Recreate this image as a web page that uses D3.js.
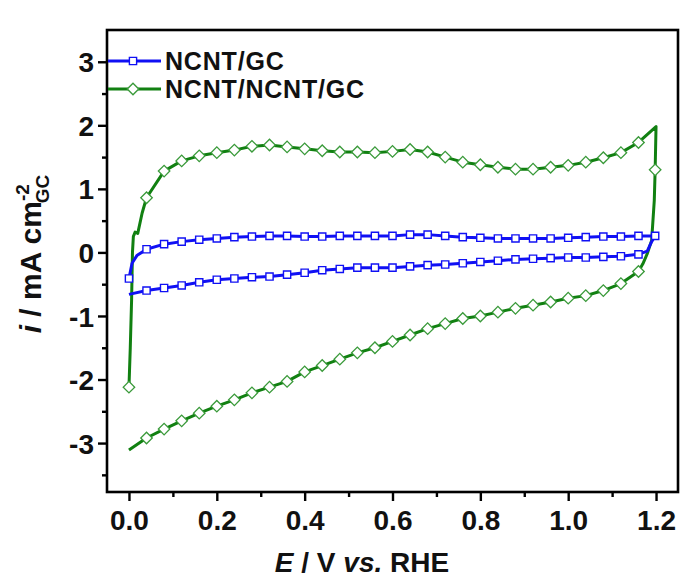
<!DOCTYPE html>
<html>
<head>
<meta charset="utf-8">
<script src="https://cdn.jsdelivr.net/npm/d3@7/dist/d3.min.js"></script>
<style>
html,body{margin:0;padding:0;background:#fff;}
svg{display:block;}
text{font-family:"Liberation Sans",Arial,Helvetica,sans-serif;font-weight:bold;fill:#111;}
</style>
</head>
<body>
<svg id="chart" width="683" height="581"></svg>
<script>
// ---------- data ----------
const seriesNames = ["NCNT/GC", "NCNT/NCNT/GC"];
const xTickLabels = ["0.0","0.2","0.4","0.6","0.8","1.0","1.2"];
const xTickValues = [0.0,0.2,0.4,0.6,0.8,1.0,1.2];
const xMinorValues = [0.1,0.3,0.5,0.7,0.9,1.1];
const yTickValues = [-3,-2,-1,0,1,2,3];
const yTickLabels = ["-3","-2","-1","0","1","2","3"];
const yMinorValues = [-3.5,-2.5,-1.5,-0.5,0.5,1.5,2.5];

// NCNT/GC : potential (V), current (mA cm-2), marker flag (scan order)
const blueE = [0.000,0.007,0.018,0.04,0.08,0.12,0.16,0.20,0.24,0.28,0.32,0.36,0.40,0.44,0.48,0.52,0.56,0.60,0.64,0.68,0.72,0.76,0.80,0.84,0.88,0.92,0.96,1.00,1.04,1.08,1.12,1.16,1.198,
               1.19,1.18,1.16,1.12,1.08,1.04,1.00,0.96,0.92,0.88,0.84,0.80,0.76,0.72,0.68,0.64,0.60,0.56,0.52,0.48,0.44,0.40,0.36,0.32,0.28,0.24,0.20,0.16,0.12,0.08,0.04,0.000];
const blueI = [-0.41,-0.17,-0.05,0.05,0.13,0.17,0.20,0.22,0.24,0.25,0.26,0.26,0.25,0.25,0.26,0.26,0.26,0.26,0.28,0.28,0.26,0.24,0.23,0.22,0.22,0.22,0.22,0.23,0.24,0.25,0.25,0.26,0.26,
               0.17,0.02,-0.03,-0.06,-0.07,-0.08,-0.08,-0.09,-0.10,-0.11,-0.13,-0.15,-0.17,-0.19,-0.20,-0.22,-0.24,-0.24,-0.24,-0.26,-0.28,-0.32,-0.35,-0.38,-0.39,-0.41,-0.43,-0.47,-0.52,-0.56,-0.60,-0.66];
const blueM = [1,0,0,1,1,1,1,1,1,1,1,1,1,1,1,1,1,1,1,1,1,1,1,1,1,1,1,1,1,1,1,1,1,
               0,0,1,1,1,1,1,1,1,1,1,1,1,1,1,1,1,1,1,1,1,1,1,1,1,1,1,1,1,1,1,0];

// NCNT/NCNT/GC
const greenE = [0.000,0.003,0.006,0.008,0.010,0.014,0.020,0.030,0.04,0.08,0.12,0.16,0.20,0.24,0.28,0.32,0.36,0.40,0.44,0.48,0.52,0.56,0.60,0.64,0.68,0.72,0.76,0.80,0.84,0.88,0.92,0.96,1.00,1.04,1.08,1.12,1.16,1.200,1.198,
                1.196,1.19,1.18,1.17,1.16,1.12,1.08,1.04,1.00,0.96,0.92,0.88,0.84,0.80,0.76,0.72,0.68,0.64,0.60,0.56,0.52,0.48,0.44,0.40,0.36,0.32,0.28,0.24,0.20,0.16,0.12,0.08,0.04,0.000];
const greenI = [-2.12,-1.50,-0.75,0.00,0.25,0.32,0.30,0.62,0.86,1.28,1.44,1.52,1.57,1.61,1.67,1.69,1.66,1.63,1.60,1.58,1.58,1.57,1.59,1.62,1.58,1.50,1.42,1.38,1.34,1.31,1.31,1.34,1.37,1.42,1.49,1.57,1.73,1.98,1.30,
                0.82,0.19,-0.02,-0.18,-0.30,-0.49,-0.60,-0.68,-0.72,-0.78,-0.83,-0.88,-0.94,-1.00,-1.04,-1.12,-1.20,-1.30,-1.40,-1.50,-1.58,-1.68,-1.78,-1.88,-2.03,-2.12,-2.21,-2.32,-2.42,-2.53,-2.65,-2.78,-2.92,-3.11];
const greenM = [1,0,0,0,0,0,0,0,1,1,1,1,1,1,1,1,1,1,1,1,1,1,1,1,1,1,1,1,1,1,1,1,1,1,1,1,1,0,1,
                0,0,0,0,1,1,1,1,1,1,1,1,1,1,1,1,1,1,1,1,1,1,1,1,1,1,1,1,1,1,1,1,1,0];

const blueColor = "#1010f4";
const greenLine = "#118011";
const greenMarker = "#3a9a3a";

// ---------- chart ----------
const svg = d3.select("#chart");
const x = d3.scaleLinear().domain([-0.05, 1.25]).range([107, 678]);
const y = d3.scaleLinear().domain([-3.77, 3.5]).range([492, 30]);

const line = d3.line().x(d => x(d.e)).y(d => y(d.i)).curve(d3.curveLinear);

function pts(E, I, M){ return E.map((e,k)=>({e:e, i:I[k], m:M[k]})); }
const blue = pts(blueE, blueI, blueM);
const green = pts(greenE, greenI, greenM);

// lines
svg.append("path").attr("d", line(green)).attr("fill","none")
  .attr("stroke", greenLine).attr("stroke-width",3).attr("stroke-linejoin","round");
svg.append("path").attr("d", line(blue)).attr("fill","none")
  .attr("stroke", blueColor).attr("stroke-width",3).attr("stroke-linejoin","round");

const sq = d3.symbol().type(d3.symbolSquare).size(52);
const dm = d3.symbol().type(d3.symbolSquare).size(66);   // rotated 45deg -> diamond

svg.append("g").selectAll("path").data(green.filter(d=>d.m)).join("path")
  .attr("d", dm).attr("transform", d=>`translate(${x(d.e)},${y(d.i)}) rotate(45)`)
  .attr("fill","#fff").attr("stroke",greenMarker).attr("stroke-width",1.3);
svg.append("g").selectAll("path").data(blue.filter(d=>d.m)).join("path")
  .attr("d", sq).attr("transform", d=>`translate(${x(d.e)},${y(d.i)})`)
  .attr("fill","#fff").attr("stroke",blueColor).attr("stroke-width",1.4);

// frame
svg.append("rect").attr("x",107).attr("y",30).attr("width",571).attr("height",462)
  .attr("fill","none").attr("stroke","#000").attr("stroke-width",2.6);

// axes
const fmtX = d => xTickLabels[xTickValues.indexOf(d)];
const fmtY = d => yTickLabels[yTickValues.indexOf(d)];

const gx = svg.append("g").attr("transform","translate(0,492)");
gx.call(d3.axisBottom(x).tickValues(xTickValues).tickFormat(fmtX).tickSize(9).tickPadding(10));
const gxm = svg.append("g").attr("transform","translate(0,492)");
gxm.call(d3.axisBottom(x).tickValues(xMinorValues).tickFormat("").tickSize(5));

const gy = svg.append("g").attr("transform","translate(107,0)");
gy.call(d3.axisLeft(y).tickValues(yTickValues).tickFormat(fmtY).tickSize(9).tickPadding(4));
const gym = svg.append("g").attr("transform","translate(107,0)");
gym.call(d3.axisLeft(y).tickValues(yMinorValues).tickFormat("").tickSize(5));

[gx,gxm,gy,gym].forEach(g=>{
  g.select(".domain").remove();
  g.selectAll(".tick line").attr("stroke","#000").attr("stroke-width",2.4);
  g.selectAll("text").style("font-size","28px").style("font-weight","bold")
   .style("font-family",'"Liberation Sans",Arial,sans-serif').attr("fill","#111");
});
gy.selectAll("text").attr("dy","0.36em");
gx.selectAll("text").attr("dy","0.68em");

// legend
const legendY = [61, 89];
const legendCol = [blueColor, greenLine];
seriesNames.forEach((name,k)=>{
  const g = svg.append("g");
  g.append("line").attr("x1",108).attr("x2",161).attr("y1",legendY[k]).attr("y2",legendY[k])
    .attr("stroke",legendCol[k]).attr("stroke-width",3);
  g.append("path").attr("d", k===0 ? sq : dm)
    .attr("transform",`translate(133,${legendY[k]})` + (k===0 ? "" : " rotate(45)"))
    .attr("fill","#fff").attr("stroke", k===0?blueColor:greenMarker).attr("stroke-width",1.4);
  g.append("text").attr("x",165).attr("y",legendY[k]+9)
    .style("font-size","25px").style("letter-spacing","0.8px").text(name);
});

// x title
const xt = svg.append("text").attr("x",362).attr("y",572).attr("text-anchor","middle").style("font-size","28px");
xt.append("tspan").attr("font-style","italic").text("E");
xt.append("tspan").text(" / V ");
xt.append("tspan").attr("font-style","italic").text("vs.");
xt.append("tspan").text(" RHE");

// y title
const yt = svg.append("text").attr("transform","translate(41,254) rotate(-90)")
  .attr("text-anchor","middle").style("font-size","30px");
yt.append("tspan").attr("font-style","italic").text("i");
yt.append("tspan").text(" / mA cm");
yt.append("tspan").attr("dy","-12").style("font-size","19px").text("-2");
yt.append("tspan").attr("dx","-19").attr("dy","20").style("font-size","19px").text("GC");
</script>
</body>
</html>
